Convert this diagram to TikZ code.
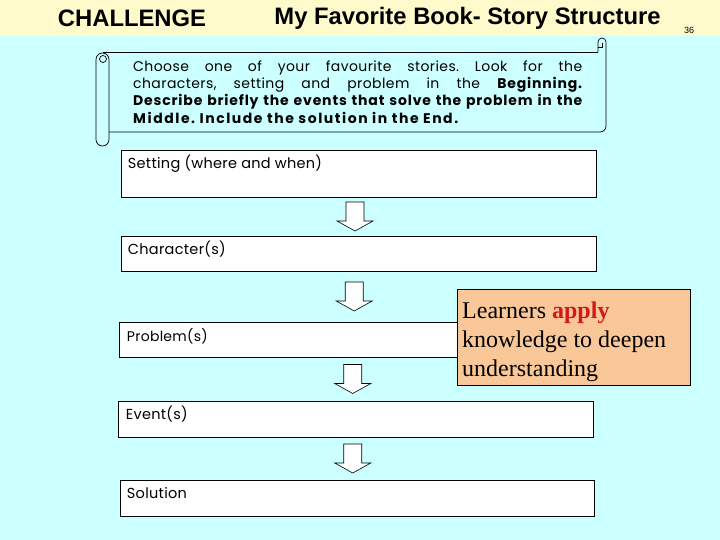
\documentclass[tikz,border=0pt]{standalone}
\usepackage{fontspec}
\setmainfont{Liberation Serif}
\newfontfamily\arialf{Liberation Sans}
\newfontfamily\gothic{Poppins}[LetterSpace=3]
\newfontfamily\gothicwide{Poppins}[LetterSpace=6]
\newfontfamily\gothicwider{Poppins}[LetterSpace=11]
\newfontfamily\gothiclbl{Poppins}[LetterSpace=2]
\usetikzlibrary{calc}
\definecolor{topbg}{RGB}{255,250,204}
\definecolor{mainbg}{RGB}{204,255,255}
\definecolor{notefill}{RGB}{250,200,152}
\definecolor{applyred}{RGB}{210,25,25}
\tikzset{
  titletext/.style={font=\arialf\bfseries\fontsize{23.8}{27}\selectfont, inner sep=0},
  stagebox/.style={draw=black, line width=0.6pt, fill=white, inner sep=0},
  stagelabel/.style={font=\gothiclbl\fontsize{14.5}{17}\selectfont, inner sep=0, anchor=base west},
  blockarr/.style={draw=black, line width=0.6pt, fill=white},
  scrollline/.style={draw=black, line width=0.7pt},
}
\newcommand\blockarrow[2]{%
  \path let \p1=($(#1.south)!0.5!(#2.north)$) in
    [blockarr] (\x1-12.5pt,\y1+14.5pt) -- (\x1+5.5pt,\y1+14.5pt)
    -- (\x1+5.5pt,\y1-4.5pt) -- (\x1+14.5pt,\y1-4.5pt)
    -- (\x1-3.5pt,\y1-14.5pt) -- (\x1-21.5pt,\y1-4.5pt)
    -- (\x1-12.5pt,\y1-4.5pt) -- cycle;}
\frenchspacing
\begin{document}
\begin{tikzpicture}[x=1pt,y=-1pt]
\useasboundingbox (0,0) rectangle (720,540);
\fill[mainbg] (0,0) rectangle (720,540);
\fill[topbg] (0,0) rectangle (720,36);
% titles
\node[titletext] (chal) at (132,18) {CHALLENGE};
\node[titletext] (title) at (467.5,18) {My Favorite Book- Story Structure};
\node[font=\arialf\fontsize{9}{10}\selectfont, inner sep=0] (page) at (689,30) {36};
% scroll
\draw[scrollline, rounded corners=6.5] (96,53) rectangle (109,146);
\draw[scrollline] (103,59) circle (3.5);
\draw[scrollline] (103,52) -- (598,52);
\draw[scrollline] (598,52) -- (598,42) arc (180:360:4) -- (606,126) arc (0:90:6) -- (109,132);
\draw[scrollline] (598,47.5) -- (602,47.5) -- (602,43);
\node[anchor=north west, inner sep=0, text width=449pt, align=justify,
      font=\gothic\fontsize{14}{17.3}\selectfont] (intro) at (133,60.5)
 {Choose one of your favourite stories. Look for the\linebreak
  characters, setting and problem in the {\gothicwide\bfseries Beginning.}\linebreak
  {\gothicwide\bfseries Describe briefly the events that solve the problem in the}\linebreak
  {\gothicwider\bfseries Middle. Include the solution in the End.}};
% stage boxes
\node[stagebox, minimum width=475pt, minimum height=47pt] (set) at (358.5,173.5) {};
\node[stagebox, minimum width=475pt, minimum height=35pt] (char) at (358.5,253.5) {};
\node[stagebox, minimum width=476pt, minimum height=35pt] (prob) at (357,339.5) {};
\node[stagebox, minimum width=475pt, minimum height=36pt] (event) at (355.5,419) {};
\node[stagebox, minimum width=474pt, minimum height=36pt] (sol) at (357,498) {};
\node[stagelabel] (setl) at ([xshift=7pt,yshift=-19pt]set.north west) {Setting (where and when)};
\node[stagelabel] (charl) at ([xshift=7pt,yshift=-19pt]char.north west) {Character(s)};
\node[stagelabel, font=\gothiclbl\fontsize{14}{16}\selectfont] (probl) at ([xshift=8pt,yshift=-20pt]prob.north west) {Problem(s)};
\node[stagelabel] (eventl) at ([xshift=8pt,yshift=-18.5pt]event.north west) {Event(s)};
\node[stagelabel] (soll) at ([xshift=7pt,yshift=-19pt]sol.north west) {Solution};
% arrows
\blockarrow{set}{char}
\blockarrow{char}{prob}
\blockarrow{prob}{event}
\blockarrow{event}{sol}
% note
\node[draw=black, line width=0.6pt, fill=notefill, minimum width=233pt, minimum height=96pt, inner sep=0] (note) at (573.5,337) {};
\node[anchor=north west, inner sep=0, align=left, font=\fontsize{24}{29}\selectfont] (notetext) at (462,301.5)
 {Learners \textcolor{applyred}{\textbf{apply}}\\knowledge to deepen\\understanding};
\end{tikzpicture}
\end{document}
